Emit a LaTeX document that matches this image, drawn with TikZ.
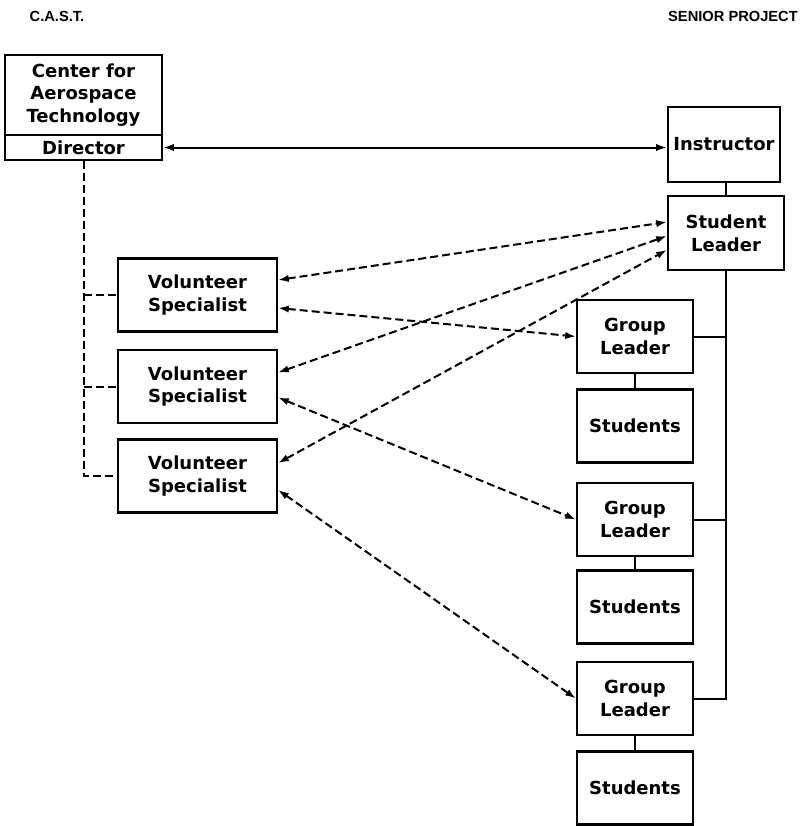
\documentclass[tikz,border=0pt]{standalone}
\usepackage{fontspec}
\setmainfont{DejaVu Sans}
\newfontfamily\hdrfont{Liberation Sans}
\usetikzlibrary{arrows.meta,calc}
\begin{document}
\begin{tikzpicture}[x=0.75pt,y=-0.75pt,
  box/.style={draw, line width=1.7pt, inner sep=0pt, align=center,
    font=\bfseries\fontsize{13.5}{17}\selectfont},
  vsbox/.style={box, minimum width=119.25pt, minimum height=54.75pt},
  rbox/.style={box, minimum width=87pt, minimum height=54.75pt},
  hdr/.style={font=\hdrfont\bfseries\fontsize{11}{13}\selectfont, inner sep=0pt},
  conn/.style={line width=1.5pt},
  dconn/.style={line width=1.5pt, dash pattern=on 6pt off 3pt},
  both/.style={{Latex[length=8pt,width=5.5pt]}-{Latex[length=8pt,width=5.5pt]}}
]
\useasboundingbox (0,0) rectangle (800,826);

\node[hdr] (hcast) at (57,16) {C.A.S.T.};
\node[hdr] (hsen) at (733,16) {SENIOR PROJECT};

\node[box, minimum width=117.75pt, minimum height=60pt] (cast) at (83.5,95) {Center for\\Aerospace\\Technology};
\node[box, minimum width=117.75pt, minimum height=18.75pt] (dir) at (83.5,147.5) {Director};

\node[box, minimum width=84pt, minimum height=56.25pt] (instr) at (724,144.5) {Instructor};
\node[box, minimum width=87pt, minimum height=55.5pt] (sl) at (726,233) {Student\\Leader};

\node[vsbox] (vs1) at (197.5,295) {Volunteer\\Specialist};
\node[vsbox] (vs2) at (197.5,386.5) {Volunteer\\Specialist};
\node[vsbox] (vs3) at (197.5,476) {Volunteer\\Specialist};

\node[rbox] (gl1) at (635,336.5) {Group\\Leader};
\node[rbox] (st1) at (635,426) {Students};
\node[rbox] (gl2) at (635,519.5) {Group\\Leader};
\node[rbox] (st2) at (635,607) {Students};
\node[rbox] (gl3) at (635,698.5) {Group\\Leader};
\node[rbox] (st3) at (635,788) {Students};

% solid connections
\draw[conn,both] (dir.east) -- (dir.east -| instr.west);
\draw[conn] (instr.south -| sl.north) -- (sl.north);
\draw[conn] (sl.south) -- (sl.south |- gl3.east) -- (gl3.east);
\draw[conn] (gl1.east) -- (gl1.east -| sl.south);
\draw[conn] (gl2.east) -- (gl2.east -| sl.south);
\draw[conn] (gl1.south) -- (st1.north);
\draw[conn] (gl2.south) -- (st2.north);
\draw[conn] (gl3.south) -- (st3.north);

% dashed tree
\draw[dconn] (dir.south) -- (dir.south |- vs3.west) -- (vs3.west);
\draw[dconn] (dir.south |- vs1.west) -- (vs1.west);
\draw[dconn] (dir.south |- vs2.west) -- (vs2.west);

% dashed double arrows
\draw[dconn,both] ($(vs1.east)+(0,-15)$) -- ($(sl.west)+(0,-11)$);
\draw[dconn,both] ($(vs2.east)+(0,-14)$) -- ($(sl.west)+(0,3)$);
\draw[dconn,both] ($(vs3.east)+(0,-13)$) -- ($(sl.west)+(0,17)$);
\draw[dconn,both] ($(vs1.east)+(0,13)$) -- (gl1.west);
\draw[dconn,both] ($(vs2.east)+(0,11)$) -- (gl2.west);
\draw[dconn,both] ($(vs3.east)+(0,14)$) -- (gl3.west);
\end{tikzpicture}
\end{document}
